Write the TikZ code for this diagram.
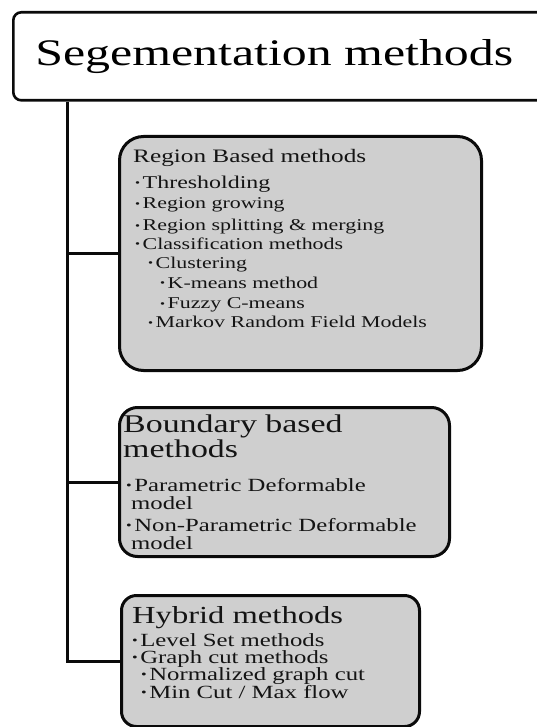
\documentclass[tikz,border=0pt]{standalone}
\usepackage{fontspec}
\setmainfont[FakeStretch=1.33]{Liberation Serif}
\usepackage{tikz}
\usetikzlibrary{positioning}
\definecolor{cBox}{HTML}{CFCFCF}
\definecolor{cLine}{HTML}{0A0A0A}
\definecolor{cInk}{HTML}{141414}
\newcommand{\bul}{\raisebox{0.1em}{\scalebox{0.65}{\textbullet}}\kern2.5pt}
\newcommand{\fs}[2]{\fontsize{#1}{#2}\selectfont}
\tikzset{
  head/.style={draw=cLine,fill=white,rounded corners=8pt,line width=2.6pt,anchor=north west,inner ysep=0pt},
  mbox/.style={draw=cLine,fill=cBox,line width=3pt,anchor=north west,inner sep=0pt},
  txt/.style={anchor=north west,inner sep=0pt,align=left,text=cInk},
  conn/.style={draw=cLine,line width=3pt}}
\begin{document}
\begin{tikzpicture}[x=1pt,y=-1pt]
\useasboundingbox (0,0) rectangle (536,727);
\node[head, minimum height=88pt, text width=525pt, inner xsep=22pt, align=left, font=\fs{37.5}{40}] (title) at (12,11) {Segementation methods};
\node[mbox, minimum width=362pt, minimum height=234pt, rounded corners=24pt] (region) at (118,135) {};
\node[mbox, minimum width=330pt, minimum height=149pt, rounded corners=18pt] (bound) at (118,406) {};
\node[mbox, minimum width=298pt, minimum height=131pt, rounded corners=15pt] (hybrid) at (120,594) {};
\node[txt, font=\fs{16.5}{19.8}] (regiontxt) at (133,149) {\fs{19}{20}Region Based methods\\[6pt]
  \hspace*{2pt}\bul\fs{18}{20}Thresholding\\[1pt]
  \hspace*{2pt}\bul Region growing\\[2pt]
  \hspace*{2pt}\bul Region splitting \& merging\\[-1pt]
  \hspace*{2pt}\bul Classification methods\\[-1pt]
  \hspace*{15pt}\bul Clustering\\[0pt]
  \hspace*{27pt}\bul K-means method\\[1pt]
  \hspace*{27pt}\bul Fuzzy C-means\\[-1pt]
  \hspace*{15pt}\bul Markov Random Field Models};
\node[txt, font=\fs{18.6}{18}] (boundtxt) at (123,415) {\fs{25.5}{22}Boundary based\\
  \fs{25.5}{22}methods\\[16pt]
  \hspace*{3pt}\bul Parametric Deformable\\
  \hspace*{8pt}model\\[4pt]
  \hspace*{3pt}\bul Non-Parametric Deformable\\
  \hspace*{8pt}model};
\node[txt, font=\fs{18.6}{17}] (hybridtxt) at (132,606) {\fs{24.5}{22}Hybrid methods\\[4pt]
  \bul Level Set methods\\
  \bul Graph cut methods\\
  \hspace*{9pt}\bul Normalized graph cut\\
  \hspace*{9pt}\bul Min Cut / Max flow};
\coordinate (trunk) at ([xshift=55pt]title.south west);
\draw[conn] (trunk) |- (hybrid.west);
\draw[conn] (trunk |- region.west) -- (region.west);
\draw[conn] (trunk |- bound.west) -- (bound.west);
\end{tikzpicture}
\end{document}
